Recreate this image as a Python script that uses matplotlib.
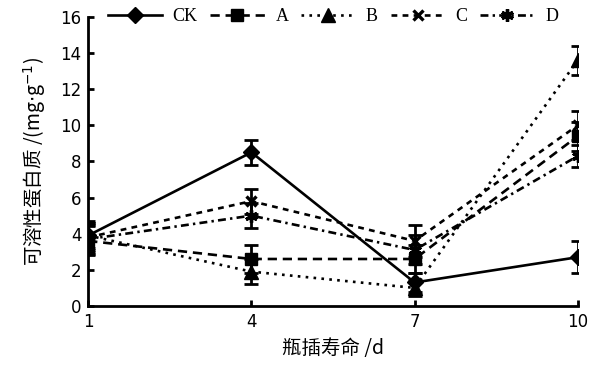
import matplotlib
matplotlib.use("Agg")
import matplotlib.pyplot as plt

days = [1, 4, 7, 10]
series_names = ["CK", "A", "B", "C", "D"]
ck = [3.9, 8.5, 1.3, 2.7]
a_vals = [3.6, 2.6, 2.6, 9.4]
b_vals = [3.9, 1.9, 1.0, 13.6]
c_vals = [3.8, 5.8, 3.6, 10.0]
d_vals = [3.7, 5.0, 3.1, 8.3]
ck_err = [0.8, 0.7, 0.5, 0.9]
a_err = [0.8, 0.8, 0.8, 0.8]
b_err = [0.7, 0.7, 0.45, 0.8]
c_err = [0.8, 0.7, 0.9, 0.8]
d_err = [0.8, 0.7, 0.8, 0.6]
x_ticks = [1, 4, 7, 10]
y_ticks = [0, 2, 4, 6, 8, 10, 12, 14, 16]

plt.rcParams['mathtext.fontset'] = 'dejavusans'
fig = plt.figure(figsize=(6.0, 3.66), dpi=100)
ax = fig.add_axes([0.147, 0.164, 0.816, 0.79])

values = [ck, a_vals, b_vals, c_vals, d_vals]
errs = [ck_err, a_err, b_err, c_err, d_err]
markers = ['D', 's', '^', 'x', (6, 2, 0)]
msizes = [8.5, 8.5, 9.5, 7.5, 9]
dashes = [None, (3.5, 2.2), (1.0, 2.0), (2.2, 2.0), (3.0, 1.6, 0.9, 1.6)]

handles = []
for name, v, e, m, ms, ds in zip(series_names, values, errs, markers, msizes, dashes):
    ax.errorbar(days, v, yerr=e, fmt='none', ecolor='black', elinewidth=2.0,
                capsize=5, capthick=2.0, zorder=2)
    ln, = ax.plot(days, v, color='black', lw=1.9, marker=m, markersize=ms,
                  markeredgewidth=2.4 if m in ('x', (6, 2, 0)) else 1,
                  markerfacecolor='black', markeredgecolor='black', label=name, zorder=3)
    if ds is not None:
        ln.set_dashes(ds)
    handles.append(ln)

ax.set_xlim(1, 10)
ax.set_ylim(0, 16)
ax.set_xticks(x_ticks)
ax.set_yticks(y_ticks)
ax.spines['top'].set_visible(False)
ax.spines['right'].set_visible(False)
for s in ('left', 'bottom'):
    ax.spines[s].set_linewidth(2.0)
ax.tick_params(direction='in', length=4, width=2.0, labelsize=12, pad=5)
for lab in ax.get_xticklabels() + ax.get_yticklabels():
    lab.set_fontfamily('DejaVu Sans')

fam = ['Noto Sans CJK SC', 'DejaVu Sans']
ax.set_xlabel('瓶插寿命 /d', fontsize=14, family=fam, labelpad=5)
ax.set_ylabel(r'可溶性蛋白质 /(mg$\cdot$g$^{-1}$)', fontsize=14, family=fam, labelpad=9)

leg = ax.legend(handles=handles, loc='center', bbox_to_anchor=(0.5, 1.0), ncol=5,
                frameon=False, handlelength=3.0, columnspacing=0.7, handletextpad=0.6,
                prop={'family': 'Liberation Serif', 'size': 13})

fig.savefig('out.png', dpi=100)
